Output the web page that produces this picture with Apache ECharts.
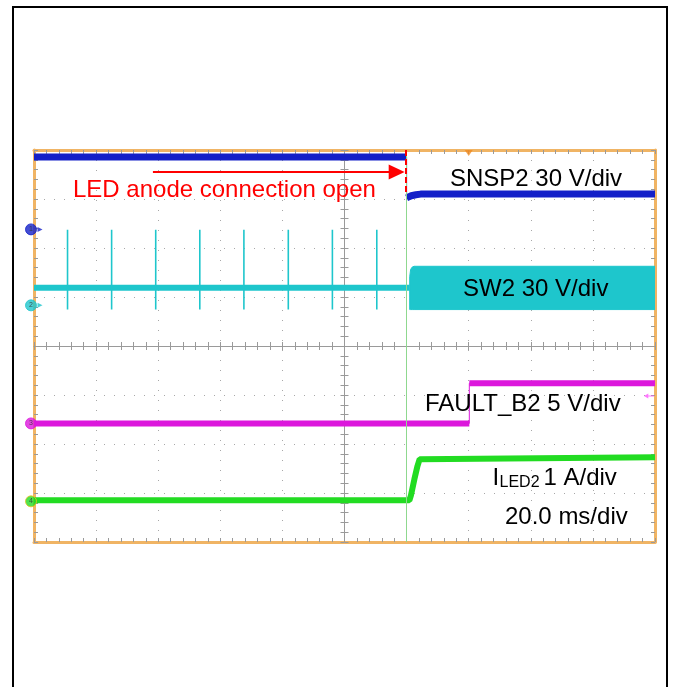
<!DOCTYPE html>
<html>
<head>
<meta charset="utf-8">
<title>LED anode open – scope capture</title>
<script src="https://cdn.jsdelivr.net/npm/echarts@6/dist/echarts.min.js"></script>
<style>
  html, body { margin: 0; padding: 0; background: #fff; }
  #chart { width: 675px; height: 687px; }
</style>
</head>
<body>
<div id="chart"></div>
<script>
// ---- time base (ms), trigger at t = 0 ----
const T_MIN = -140, T_MAX = 60, T_DIV = 20;

// ---- channel settings: unit per division and ground position (divisions from centre) ----
const chNames = ['SNSP2', 'SW2', 'FAULT_B2', 'ILED2'];
const chScale = [30, 30, 5, 1];
const chPos = [2.38, 0.83, -1.58, -3.17];

// ---- CH1: SNSP2 (V) ----
const ch1Time = [-140, -20.0, -20.0, -19.5, -18.5, -17.0, -15.5, 60];
const ch1Volt = [44.3, 44.3, 19.3, 19.9, 20.6, 21.2, 21.6, 21.6];

// ---- CH2: SW2 (V) ----
const ch2Time = [-140, -19.0];
const ch2Volt = [10.8, 10.8];
const swSpikeTime = [-129.2, -115.0, -100.8, -86.6, -72.4, -58.1, -43.9, -29.6];
const swSpikeHigh = [46.3, 46.3, 46.3, 46.3, 46.3, 46.3, 46.3, 46.3];
const swSpikeLow = [-2.6, -2.6, -2.6, -2.6, -2.6, -2.6, -2.6, -2.6];
// switching envelope after the string opens
const swBandTime = [-19.0, -18.7, -18.2, -17.6, 60];
const swBandHigh = [17.5, 22.0, 23.4, 23.9, 23.9];
const swBandLow = [-2.6, -2.6, -2.6, -2.6, -2.6];

// ---- CH3: FAULT_B2 (V) ----
const ch3Time = [-140, 0.2, 0.2, 60];
const ch3Volt = [0.0, 0.0, 4.1, 4.1];
const ch3TrigLevel = 2.8;

// ---- CH4: ILED2 (A) ----
const ch4Time = [-140, -19.1, -18.6, -17.5, -16.5, -15.8, -15.2, 60];
const ch4Amp = [0.02, 0.02, 0.12, 0.45, 0.72, 0.86, 0.9, 0.9];

// ---- annotation ----
const openTime = -20.0;            // cursor at the open event
const arrowStart = -101.7, arrowHead = -23.2, arrowLevel = 35.1; // on CH1 scale
const dashTime = -20.2, dashTop = 48.6, dashBottom = 22.0;

const colors = ['#1420C8', '#1EC6CC', '#DC18DC', '#22DC22'];
const GRID_GRAY = '#9a9a9a';
const BORDER = '#F0B464';

function pairs(ts, vs) { return ts.map((t, i) => [t, vs[i]]); }
// thick trace: break at vertical edges so they are drawn thin
function thick(ts, vs) {
  const out = [];
  ts.forEach((t, i) => {
    if (i > 0 && t === ts[i - 1]) out.push([t, null]);
    out.push([t, vs[i]]);
  });
  return out;
}
function spikes(ts, hi, lo) {
  const out = [];
  ts.forEach((t, i) => { out.push([t, hi[i]], [t, lo[i]], [t, null]); });
  return out;
}
function chAxis(i) {
  return { type: 'value', show: false, min: (-4 - chPos[i]) * chScale[i], max: (4 - chPos[i]) * chScale[i] };
}
const borderTicks = (inside) => ({
  axisTick: { show: true, inside: inside, length: 4, lineStyle: { color: GRID_GRAY, width: 1 } },
  minorTick: { show: true, splitNumber: 5, length: 4, lineStyle: { color: GRID_GRAY, width: 1 } }
});
const dotted = { show: true, lineStyle: { color: '#a8a8a8', width: 1, type: [1, 9] } };

const chart = echarts.init(document.getElementById('chart'), null, { renderer: 'canvas' });

const xAxis = [
  // 0: time axis, bottom border
  Object.assign({ type: 'value', min: T_MIN, max: T_MAX, interval: T_DIV, position: 'bottom',
    axisLine: { show: true, onZero: false, lineStyle: { color: BORDER, width: 3 } },
    axisLabel: { show: false }, splitLine: dotted }, borderTicks(true)),
  // 1: top border
  Object.assign({ type: 'value', min: T_MIN, max: T_MAX, interval: T_DIV, position: 'top',
    axisLine: { show: true, onZero: false, lineStyle: { color: BORDER, width: 3 } },
    axisLabel: { show: false }, splitLine: { show: false } }, borderTicks(true)),
  // 2,3: horizontal centre line (divisions)
  Object.assign({ type: 'value', min: -5, max: 5, interval: 1, position: 'bottom',
    axisLine: { show: true, onZero: true, onZeroAxisIndex: 0, lineStyle: { color: GRID_GRAY, width: 1 } },
    axisLabel: { show: false }, splitLine: { show: false } }, borderTicks(true)),
  Object.assign({ type: 'value', min: -5, max: 5, interval: 1, position: 'bottom',
    axisLine: { show: false, onZero: true, onZeroAxisIndex: 0 },
    axisLabel: { show: false }, splitLine: { show: false } }, borderTicks(false))
];

const yAxis = [
  // 0: divisions, left border
  Object.assign({ type: 'value', min: -4, max: 4, interval: 1, position: 'left',
    axisLine: { show: true, onZero: false, lineStyle: { color: BORDER, width: 3 } },
    axisLabel: { show: false }, splitLine: dotted }, borderTicks(true)),
  // 1: right border
  Object.assign({ type: 'value', min: -4, max: 4, interval: 1, position: 'right',
    axisLine: { show: true, onZero: false, lineStyle: { color: BORDER, width: 3 } },
    axisLabel: { show: false }, splitLine: { show: false } }, borderTicks(true)),
  // 2,3: vertical centre line
  Object.assign({ type: 'value', min: -4, max: 4, interval: 1, position: 'left',
    axisLine: { show: true, onZero: true, onZeroAxisIndex: 2, lineStyle: { color: GRID_GRAY, width: 1 } },
    axisLabel: { show: false }, splitLine: { show: false } }, borderTicks(true)),
  Object.assign({ type: 'value', min: -4, max: 4, interval: 1, position: 'left',
    axisLine: { show: false, onZero: true, onZeroAxisIndex: 2 },
    axisLabel: { show: false }, splitLine: { show: false } }, borderTicks(false)),
  // 4..7: channel scales
  chAxis(0), chAxis(1), chAxis(2), chAxis(3)
];

const lineBase = { type: 'line', xAxisIndex: 0, showSymbol: false, symbol: 'none', animation: false, connectNulls: false };

const series = [
  // CH2 switching envelope
  {
    type: 'custom', xAxisIndex: 0, yAxisIndex: 5, animation: false, clip: true, z: 3,
    data: [0],
    renderItem: function (params, api) {
      const pts = [];
      swBandTime.forEach((t, i) => pts.push(api.coord([t, swBandHigh[i]])));
      for (let i = swBandTime.length - 1; i >= 0; i--) pts.push(api.coord([swBandTime[i], swBandLow[i]]));
      return { type: 'polygon', shape: { points: pts }, style: { fill: colors[1], stroke: colors[1], lineWidth: 1 } };
    }
  },
  Object.assign({}, lineBase, { name: chNames[1], yAxisIndex: 5, z: 3, data: pairs(ch2Time, ch2Volt),
    lineStyle: { color: colors[1], width: 6 } }),
  Object.assign({}, lineBase, { yAxisIndex: 5, z: 3, data: spikes(swSpikeTime, swSpikeHigh, swSpikeLow),
    lineStyle: { color: colors[1], width: 1.6 } }),
  // CH1
  Object.assign({}, lineBase, { name: chNames[0], yAxisIndex: 4, z: 4, data: thick(ch1Time, ch1Volt),
    lineStyle: { color: colors[0], width: 7 } }),
  Object.assign({}, lineBase, { yAxisIndex: 4, z: 4, data: pairs(ch1Time, ch1Volt),
    lineStyle: { color: colors[0], width: 1 } }),
  // CH3
  Object.assign({}, lineBase, { name: chNames[2], yAxisIndex: 6, z: 4, data: thick(ch3Time, ch3Volt),
    lineStyle: { color: colors[2], width: 6 } }),
  Object.assign({}, lineBase, { yAxisIndex: 6, z: 4, data: pairs(ch3Time, ch3Volt),
    lineStyle: { color: colors[2], width: 1 } }),
  // CH4
  Object.assign({}, lineBase, { name: chNames[3], yAxisIndex: 7, z: 4, data: thick(ch4Time, ch4Amp),
    lineStyle: { color: colors[3], width: 6 } }),
  // cursor at the open event
  Object.assign({}, lineBase, { yAxisIndex: 0, z: 2, data: [],
    markLine: { silent: true, symbol: 'none', animation: false, label: { show: false },
      lineStyle: { color: '#8fd88f', width: 1, type: 'solid' },
      data: [{ xAxis: openTime }] } }),
  // red annotation arrow and dashed marker (CH1 scale)
  Object.assign({}, lineBase, { yAxisIndex: 4, z: 6, data: [],
    markLine: { silent: true, animation: false, label: { show: false },
      data: [
        [{ coord: [arrowStart, arrowLevel], symbol: 'none' },
         { coord: [arrowHead, arrowLevel], symbol: 'triangle', symbolSize: [15, 16], symbolRotate: -90,
           lineStyle: { color: '#FF0000', width: 2, type: 'solid' } }],
        [{ coord: [dashTime, dashTop], symbol: 'none' },
         { coord: [dashTime, dashBottom], symbol: 'none',
           lineStyle: { color: '#FF0000', width: 2, type: [6, 3] } }]
      ],
      lineStyle: { color: '#FF0000', width: 2 } } }),
  // channel ground markers
  {
    type: 'scatter', xAxisIndex: 0, yAxisIndex: 0, z: 8, clip: false, animation: false,
    symbol: 'circle', symbolSize: 11, symbolOffset: [-3, 0],
    data: chPos.map((p, i) => ({ value: [T_MIN, p],
      itemStyle: { color: colors[i], borderColor: i === 3 ? '#E8C020' : colors[i], borderWidth: 1 } })),
    label: { show: true, position: 'inside', formatter: (p) => String(p.dataIndex + 1),
      fontSize: 7, fontFamily: 'Liberation Sans', color: '#333' }
  },
  {
    type: 'scatter', xAxisIndex: 0, yAxisIndex: 0, z: 8, clip: false, animation: false,
    symbol: 'triangle', symbolRotate: -90, symbolSize: [5, 5], symbolOffset: [6, 0],
    data: chPos.slice(0, 2).map((p, i) => ({ value: [T_MIN, p], itemStyle: { color: colors[i] } }))
  },
  // trigger position and trigger level markers
  {
    type: 'scatter', xAxisIndex: 0, yAxisIndex: 0, z: 8, clip: false, animation: false,
    symbol: 'triangle', symbolRotate: 180, symbolSize: [8, 6], symbolOffset: [0, 3],
    itemStyle: { color: '#F08A1E' }, data: [[0, 4]]
  },
  {
    type: 'scatter', xAxisIndex: 0, yAxisIndex: 6, z: 8, clip: false, animation: false,
    symbol: 'path://M0,5 L6,0 L6,4 L14,4 L14,6 L6,6 L6,10 Z', symbolSize: [10, 5], symbolOffset: [-6, 0],
    itemStyle: { color: '#FF55FF' }, data: [[T_MAX, ch3TrigLevel]]
  }
];

const FONT = '"Liberation Sans", Arial, sans-serif';
function txt(text, x, y, size, color) {
  return { type: 'text', z: 100, silent: true,
    style: { text: text, x: x, y: y, font: size + 'px ' + FONT, fill: color || '#000', align: 'left', verticalAlign: 'middle' } };
}

const option = {
  backgroundColor: '#ffffff',
  animation: false,
  grid: { left: 34, top: 150, width: 621, height: 392, containLabel: false, show: false },
  xAxis: xAxis,
  yAxis: yAxis,
  series: series,
  graphic: [
    { type: 'rect', z: -10, silent: true, shape: { x: 13, y: 7, width: 654, height: 700 },
      style: { fill: 'none', stroke: '#000', lineWidth: 2 } },
    txt('LED anode connection open', 73, 190.6, 24, '#FF0000'),
    txt('SNSP2 30 V/div', 450, 179.6, 24),
    txt('SW2 30 V/div', 463, 289.6, 24),
    txt('FAULT_B2 5 V/div', 425, 404, 24),
    txt('I', 492.6, 478.6, 24),
    txt('LED2', 499.5, 482.9, 16),
    txt('1 A/div', 543.5, 478.6, 24),
    txt('20.0 ms/div', 505, 517.3, 24)
  ]
};

chart.setOption(option);
</script>
</body>
</html>
